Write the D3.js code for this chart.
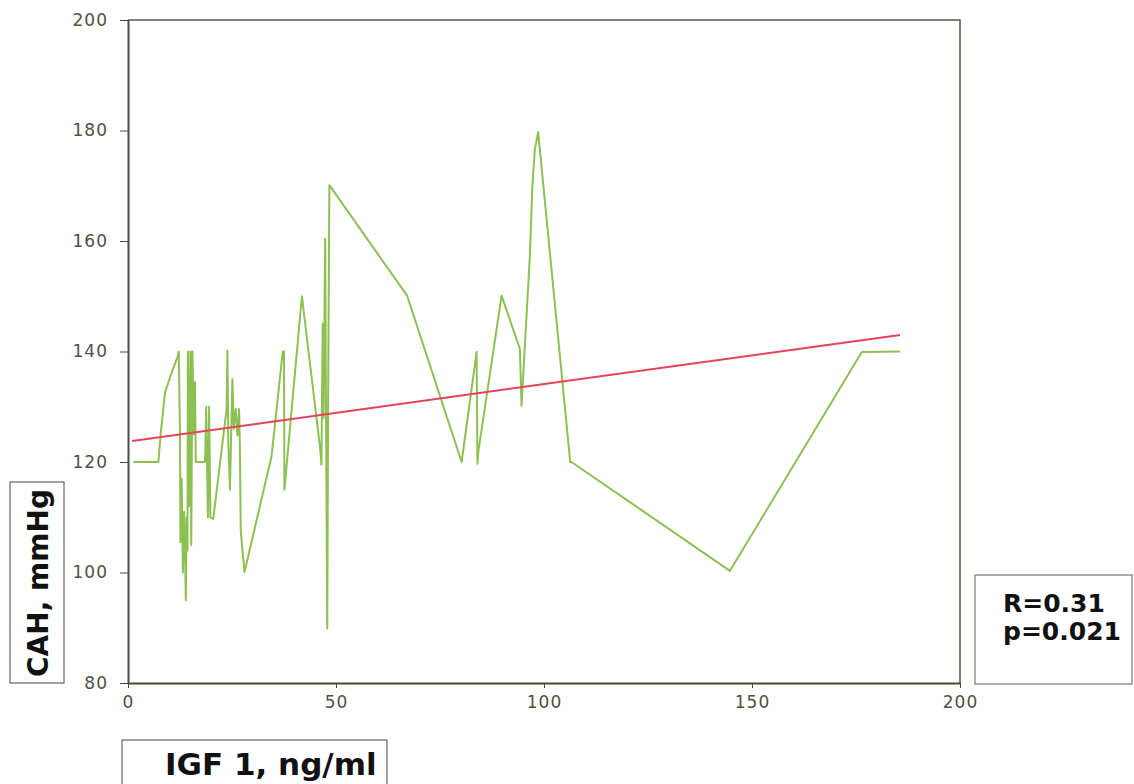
<!DOCTYPE html>
<html>
<head>
<meta charset="utf-8">
<script src="https://cdn.jsdelivr.net/npm/d3@7"></script>
<style>
  body { margin: 0; background: #fff; }
  svg { display: block; }
  .tick text { font-family: 'DejaVu Sans', sans-serif; font-size: 17px; fill: #505043; letter-spacing: 1px; }
  .lbl { font-family: 'DejaVu Sans', sans-serif; font-weight: bold; fill: #111; }
</style>
</head>
<body>
<svg id="canvas"></svg>
<script>
const svg = d3.select('#canvas');
const width = 1134;
const height = 784;

// IGF 1 (ng/ml) vs CAH (mmHg), points joined in order of x
const igf = [1.3, 7.3, 7.9, 8.9, 10.5, 11.9, 12.2, 12.5, 12.6, 12.9, 13.2, 13.5, 13.7, 13.9, 14.1, 14.3, 14.4, 14.7, 15, 15.2, 15.5, 15.8, 16.1, 16.3,
  18.5, 18.6, 18.8, 19.2, 19.5, 19.8, 20.5, 23.7, 23.9, 24.1, 24.5, 25.1, 25.4, 25.9, 26.3, 26.7, 26.9, 27.1, 28,
  34.5, 37.2, 37.5, 37.6, 37.9, 41.8, 46.2, 46.5, 46.8, 47, 47.4, 47.6, 47.9, 48.1, 48.4,
  67.1, 80.2, 83.8, 84, 84.2, 89.8, 94.2, 94.6, 96.6, 97.2, 97.8, 98.6, 106.3, 106.6, 144.7, 176.4, 185.6];
const cah = [120, 120, 125.4, 132.6, 136.2, 139, 140, 125, 105.5, 117, 100, 111, 104, 95, 110, 104, 140, 112, 140, 105, 140, 125, 134.5, 120,
  120, 122, 130, 110, 130, 110, 109.7, 129.6, 140.2, 124, 115, 135, 126, 129.6, 124.8, 129.6, 122.4, 107.6, 100.1,
  121, 140, 140, 115, 117.5, 150, 122.4, 119.5, 145, 128, 160.4, 129, 89.8, 130, 170.1,
  150.1, 120, 139.9, 119.7, 121.8, 150.1, 140.5, 130.2, 157.3, 170, 176.6, 179.7, 120, 120, 100.3, 139.9, 140];

// regression line ends
const fitX = [1, 185.6];
const fitY = [123.8, 143.0];

const xTicks = [0, 50, 100, 150, 200];
const yTicks = [80, 100, 120, 140, 160, 180, 200];
const stats = ['R=0.31', 'p=0.021'];

const plotLeft = 128;
const plotRight = 960;
const plotTop = 20;
const plotBottom = 683;

svg.attr('width', width).attr('height', height);

const x = d3.scaleLinear().domain([0, 200]).range([plotLeft, plotRight]);
const y = d3.scaleLinear().domain([80, 200]).range([plotBottom, plotTop]);

// frame (top + right)
svg.append('path')
  .attr('d', `M${plotLeft},${plotTop}H${plotRight}V${plotBottom}`)
  .attr('fill', 'none')
  .attr('stroke', '#5a5a3c')
  .attr('stroke-width', 1.5);

svg.append('g')
  .attr('transform', `translate(0,${plotBottom})`)
  .call(d3.axisBottom(x).tickValues(xTicks).tickSize(5).tickPadding(8).tickSizeOuter(0))
  .call((g) => g.select('.domain').attr('stroke', '#4a4a30').attr('stroke-width', 2))
  .call((g) => g.selectAll('.tick line').attr('stroke', '#4a4a30'));

svg.append('g')
  .attr('transform', `translate(${plotLeft},0)`)
  .call(d3.axisLeft(y).tickValues(yTicks).tickSize(8).tickPadding(12).tickSizeOuter(0))
  .call((g) => g.select('.domain').attr('stroke', '#4a4a50').attr('stroke-width', 2))
  .call((g) => g.selectAll('.tick line').attr('stroke', '#4a4a30'));

const line = d3.line().x((d) => x(d[0])).y((d) => y(d[1]));

svg.append('path')
  .datum(d3.zip(igf, cah))
  .attr('d', line)
  .attr('fill', 'none')
  .attr('stroke', '#8cc152')
  .attr('stroke-width', 2)
  .attr('stroke-linejoin', 'round');

svg.append('path')
  .datum(d3.zip(fitX, fitY))
  .attr('d', line)
  .attr('fill', 'none')
  .attr('stroke', '#e8425a')
  .attr('stroke-width', 2);

// y label box
svg.append('rect')
  .attr('x', 10).attr('y', 482).attr('width', 54).attr('height', 201)
  .attr('fill', '#fff').attr('stroke', '#444').attr('stroke-width', 1);
svg.append('text')
  .attr('class', 'lbl')
  .attr('transform', 'translate(48,583) rotate(-90)')
  .attr('text-anchor', 'middle')
  .style('font-size', '28px')
  .text('CAH, mmHg');

// x label box
svg.append('rect')
  .attr('x', 122).attr('y', 740).attr('width', 265).attr('height', 50)
  .attr('fill', '#fff').attr('stroke', '#444').attr('stroke-width', 1);
svg.append('text')
  .attr('class', 'lbl')
  .attr('x', 165).attr('y', 775)
  .style('font-size', '31px')
  .text('IGF 1, ng/ml');

// stats box
svg.append('rect')
  .attr('x', 975).attr('y', 575).attr('width', 157).attr('height', 109)
  .attr('fill', '#fff').attr('stroke', '#777').attr('stroke-width', 1.2);
svg.selectAll('text.stat')
  .data(stats)
  .enter()
  .append('text')
  .attr('class', 'lbl stat')
  .attr('x', 1003)
  .attr('y', (d, i) => 612 + i * 28)
  .style('font-size', '25px')
  .text((d) => d);
</script>
</body>
</html>
